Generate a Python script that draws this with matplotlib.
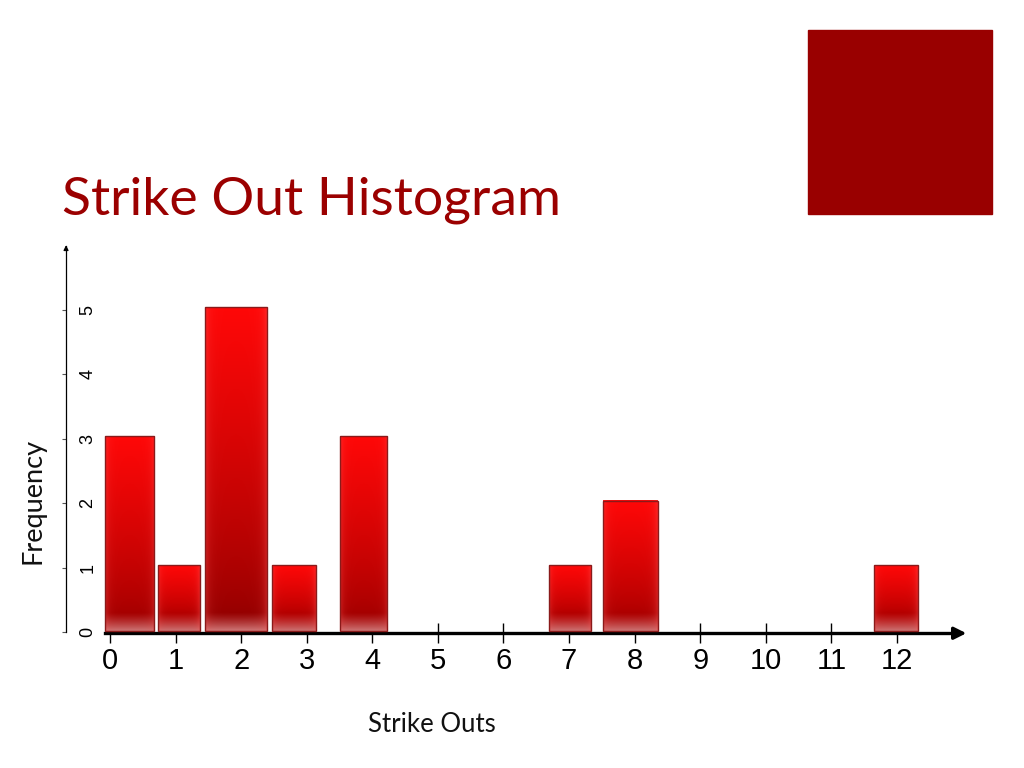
import numpy as np
import matplotlib
matplotlib.use("Agg")
import matplotlib.pyplot as plt
from matplotlib.patches import Rectangle

# data
strike_outs = list(range(13))
frequency = [3, 1, 5, 1, 3, 0, 0, 1, 2, 0, 0, 0, 1]
y_ticks = [0, 1, 2, 3, 4, 5]

# bar edges relative to each category (the source draws uneven bars)
left_off = [-0.08, -0.27, -0.55, -0.53, -0.50, 0, 0, -0.30, -0.48, 0, 0, 0, -0.35]
right_off = [0.67, 0.37, 0.39, 0.14, 0.22, 0, 0, 0.33, 0.35, 0, 0, 0, 0.32]

title_red = "#9b0000"
label_font = ["Lato", "DejaVu Sans"]
tick_font = ["Liberation Sans", "DejaVu Sans"]

fig = plt.figure(figsize=(10.24, 7.68), dpi=100)
fig.patch.set_facecolor("white")

# decorative square top right + title
fig.patches.append(Rectangle((808 / 1024, 1 - 214 / 768), 184 / 1024, 184 / 768,
                             transform=fig.transFigure, color="#990000", zorder=0))
fig.text(62 / 1024, 1 - 214 / 768, "Strike Out Histogram", color=title_red,
         fontsize=38.5, family=label_font, va="baseline", ha="left")

ax = fig.add_axes([60.8 / 1024, 1 - 638.4 / 768, 914.9 / 1024, 399.2 / 768])
ax.set_facecolor("none")


def bar_image(h, nx=60, ny=200):
    # vertical gradient: bright top, dark lower part, pale fade at the foot
    ys = np.linspace(0, 1, ny)[:, None] * h   # data units from bottom
    xs = np.linspace(0, 1, nx)[None, :]
    top = np.array([1.0, 0.03, 0.03])
    dark = np.array([0.74 - 0.03 * h, 0.0, 0.0])
    pale = np.array([0.80, 0.45, 0.45])
    fade = 0.28
    t = np.clip((ys - fade) / max(h - fade, 1e-6), 0, 1)
    t = t ** 0.8
    col = dark[None, None, :] + (top - dark)[None, None, :] * t[..., None]
    f = np.clip(1 - ys / fade, 0, 1) ** 1.3
    col = col * (1 - f[..., None]) + pale[None, None, :] * f[..., None]
    col = np.broadcast_to(col, (ny, nx, 3)).copy()
    # soft lighter edges
    d = np.minimum(xs, 1 - xs)
    e = np.exp(-d / 0.07) * 0.35
    edge = np.array([1.0, 0.35, 0.35])
    col = col * (1 - e[..., None]) + edge[None, None, :] * e[..., None]
    return np.clip(col[::-1], 0, 1)


for x, h, lo, ro in zip(strike_outs, frequency, left_off, right_off):
    if h == 0:
        continue
    x0, x1 = x + lo, x + ro
    y0, y1 = 0.02, h + 0.04
    ax.imshow(bar_image(h), extent=(x0, x1, y0, y1), aspect="auto",
              interpolation="bilinear", zorder=3)
    ax.add_patch(Rectangle((x0, y0), x1 - x0, y1 - y0, fill=False,
                           edgecolor="#8a1a1a", linewidth=1.0, zorder=3.5))

ax.set_xlim(-0.75, 13.2)
ax.set_ylim(-0.1, 6.1)

for s in ["top", "right"]:
    ax.spines[s].set_visible(False)

# y axis: thin line with labels on the inner side
ax.spines["left"].set_position(("data", -0.67))
ax.spines["left"].set_bounds(0, 6.0)
ax.spines["left"].set_linewidth(0.9)
ax.set_yticks(y_ticks)
ax.set_yticklabels([str(v) for v in y_ticks], rotation=90, va="center",
                   family=tick_font, fontsize=13)
ax.tick_params(axis="y", direction="out", length=3, width=0.8, color="#555555",
               pad=-25)
ax.annotate("", xy=(-0.67, 6.05), xytext=(-0.67, 5.9),
            arrowprops=dict(arrowstyle="-|>", color="black", lw=0.9,
                            mutation_scale=7))

# x axis: heavy line with arrow
ax.spines["bottom"].set_position(("data", -0.02))
ax.spines["bottom"].set_bounds(-0.08, 12.95)
ax.spines["bottom"].set_linewidth(2.4)
ax.set_xticks(strike_outs)
ax.set_xticklabels([str(v) for v in strike_outs], family=tick_font, fontsize=21)
ax.tick_params(axis="x", direction="inout", length=14, width=1.0, pad=3)
ax.annotate("", xy=(13.1, -0.02), xytext=(12.85, -0.02),
            arrowprops=dict(arrowstyle="-|>", color="black", lw=2.4,
                            mutation_scale=18))

fig.text(432 / 1024, 1 - 724 / 768, "Strike Outs", fontsize=18.5,
         family=label_font, ha="center", va="center", color="#111111")
fig.text(33 / 1024, 1 - 501 / 768, "Frequency", fontsize=19.5, rotation=90,
         family=label_font, ha="center", va="center", color="#111111")

fig.savefig("out.png", dpi=100)
